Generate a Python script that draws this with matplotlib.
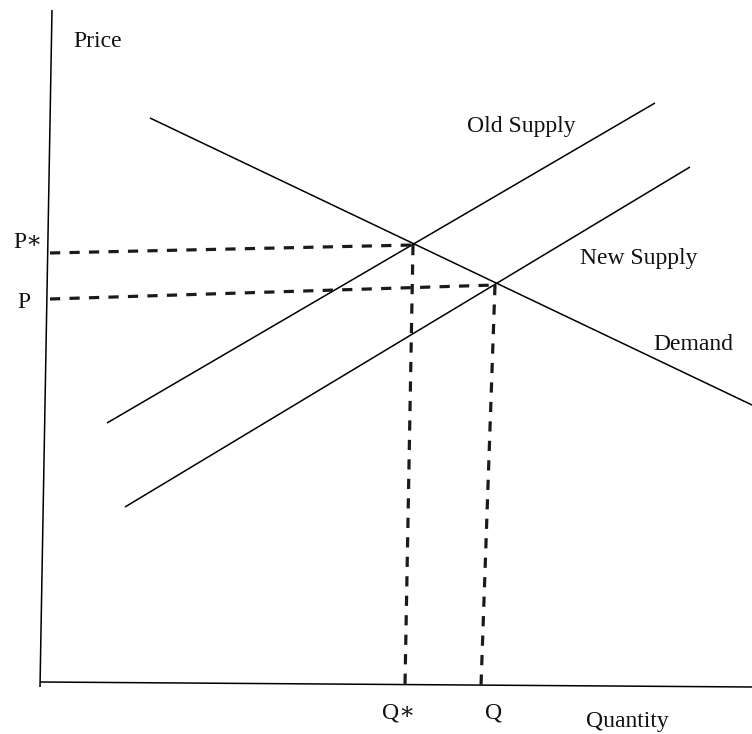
"""Supply shift diagram: old vs new supply against a single demand curve."""

import matplotlib.pyplot as plt

# ----------------------------- data (picture units, y grows downward) -----------------------------
OLD_SUPPLY_X = [107, 655]
OLD_SUPPLY_Y = [423, 103]
NEW_SUPPLY_X = [125, 690]
NEW_SUPPLY_Y = [507, 167]
DEMAND_X = [150, 752]
DEMAND_Y = [118, 405]

# equilibria: old (P*, Q*) and new (P, Q)
EQ_OLD = (413, 245)
EQ_NEW = (495, 285)
P_STAR_START = (50, 253)
P_START = (50, 299)
Q_STAR_END = (405, 685)
Q_END = (481, 686)

# axes (slightly skewed scan)
Y_AXIS_X = [52, 40]
Y_AXIS_Y = [10, 687]
X_AXIS_X = [40, 752]
X_AXIS_Y = [682, 687]

LABELS = [
    ("Price", 73, 47),
    ("Old Supply", 467, 132),
    ("New Supply", 580, 264),
    ("Demand", 653, 350),
    ("P\u2217", 13, 248),
    ("P", 17, 308),
    ("Q\u2217", 382, 718),
    ("Q", 485, 718),
    ("Quantity", 586, 727),
]

W, H = 752, 734


def main():
    plt.rcParams["font.family"] = ["Liberation Serif", "DejaVu Serif"]
    fig = plt.figure(figsize=(W / 100, H / 100), dpi=100)
    ax = fig.add_axes([0, 0, 1, 1])
    ax.set_xlim(0, W)
    ax.set_ylim(H, 0)
    ax.axis("off")

    solid = dict(color="black", lw=1.1, solid_capstyle="butt")
    ax.plot(Y_AXIS_X, Y_AXIS_Y, **solid)
    ax.plot(X_AXIS_X, X_AXIS_Y, **solid)
    ax.plot(OLD_SUPPLY_X, OLD_SUPPLY_Y, **solid)
    ax.plot(NEW_SUPPLY_X, NEW_SUPPLY_Y, **solid)
    ax.plot(DEMAND_X, DEMAND_Y, **solid)

    dashed = dict(color="#1a1a1a", lw=2.3, ls=(0, (3.2, 2.9)), dash_capstyle="butt")
    ax.plot([P_STAR_START[0], EQ_OLD[0]], [P_STAR_START[1], EQ_OLD[1]], **dashed)
    ax.plot([P_START[0], EQ_NEW[0]], [P_START[1], EQ_NEW[1]], **dashed)
    ax.plot([EQ_OLD[0], Q_STAR_END[0]], [EQ_OLD[1], Q_STAR_END[1]], **dashed)
    ax.plot([EQ_NEW[0], Q_END[0]], [EQ_NEW[1], Q_END[1]], **dashed)

    for text, x, y in LABELS:
        ax.text(x, y, text, fontsize=17, ha="left", va="baseline", color="#111111")

    fig.savefig("out.png", dpi=100, facecolor="white")


if __name__ == "__main__":
    main()
